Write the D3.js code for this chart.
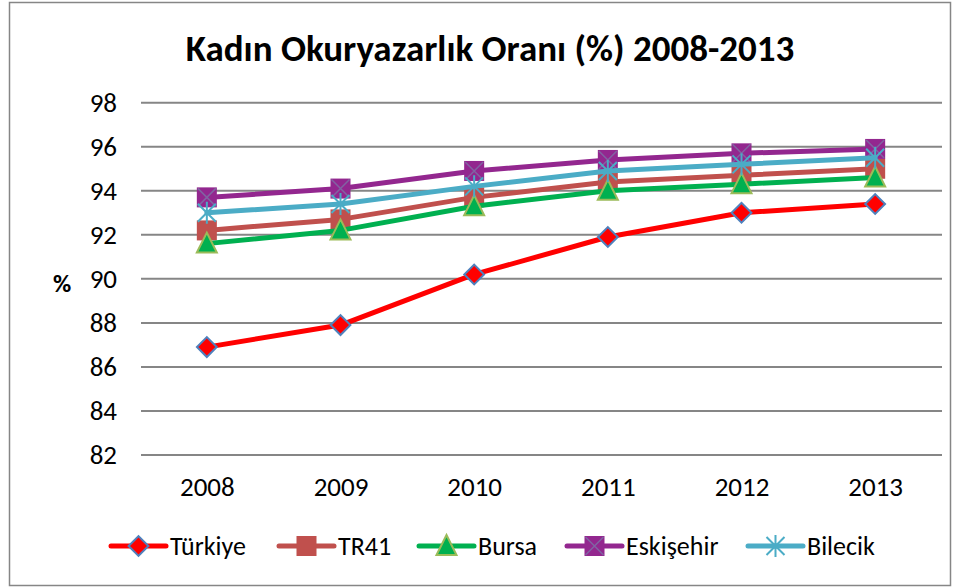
<!DOCTYPE html>
<html>
<head>
<meta charset="utf-8">
<script src="https://cdn.jsdelivr.net/npm/d3@7/dist/d3.min.js"></script>
<style>
  body { margin: 0; background: #fff; }
  text { font-family: Calibri, Carlito, Lato, sans-serif; fill: #000; }
</style>
</head>
<body>
<div class="chart"></div>
<script>
var w = 958,
    h = 587;

var years = ["2008", "2009", "2010", "2011", "2012", "2013"];
var yTicks = [82, 84, 86, 88, 90, 92, 94, 96, 98];

var turkiye   = [86.9, 87.9, 90.2, 91.9, 93.0, 93.4];
var tr41      = [92.2, 92.7, 93.7, 94.4, 94.7, 95.0];
var bursa     = [91.6, 92.2, 93.3, 94.0, 94.3, 94.6];
var eskisehir = [93.7, 94.1, 94.9, 95.4, 95.7, 95.9];
var bilecik   = [93.0, 93.4, 94.2, 94.9, 95.2, 95.5];

var seriesNames = ["Türkiye", "TR41", "Bursa", "Eskişehir", "Bilecik"];

var series = [
  { name: seriesNames[0], values: turkiye,   color: "#FF0000", marker: "diamond" },
  { name: seriesNames[1], values: tr41,      color: "#C0504D", marker: "square" },
  { name: seriesNames[2], values: bursa,     color: "#00B050", marker: "triangle" },
  { name: seriesNames[3], values: eskisehir, color: "#93278F", marker: "xsquare" },
  { name: seriesNames[4], values: bilecik,   color: "#4BACC6", marker: "star" }
];

var svg = d3.select(".chart").append("svg")
  .attr("width", w)
  .attr("height", h);

// outer frame
svg.append("rect")
  .attr("x", 9.5).attr("y", 2.5)
  .attr("width", 941).attr("height", 583)
  .attr("fill", "#fff")
  .attr("stroke", "#868686")
  .attr("stroke-width", 1.5);

var x = d3.scalePoint()
  .domain(years)
  .range([140, 942])
  .padding(0.5);

var y = d3.scaleLinear()
  .domain([82, 98])
  .range([455, 102.7]);

// title
svg.append("text")
  .attr("x", 490)
  .attr("y", 61)
  .attr("text-anchor", "middle")
  .style("font-size", "37px")
  .style("font-weight", "bold")
  .text("Kadın Okuryazarlık Oranı (%) 2008-2013");

// gridlines
svg.append("g")
  .selectAll("line")
  .data(yTicks)
  .enter()
  .append("line")
  .attr("x1", 141)
  .attr("x2", 942)
  .attr("y1", function(d) { return y(d); })
  .attr("y2", function(d) { return y(d); })
  .attr("stroke", "#868686")
  .attr("stroke-width", 2);

// y axis labels
var yAxis = d3.axisLeft(y).tickValues(yTicks).tickSize(0).tickPadding(0);
var gy = svg.append("g").attr("transform", "translate(117,0)").call(yAxis);
gy.select(".domain").remove();
gy.selectAll("text")
  .style("font-size", "27px")
  .style("font-family", "Calibri, Carlito, Lato, sans-serif")
  .attr("fill", "#000");

svg.append("text")
  .attr("x", 62)
  .attr("y", 292)
  .attr("text-anchor", "middle")
  .style("font-size", "25px")
  .style("font-weight", "bold")
  .text("%");

// x axis labels
var xAxis = d3.axisBottom(x).tickSize(0).tickPadding(0);
var gx = svg.append("g").attr("transform", "translate(0,477)").call(xAxis);
gx.select(".domain").remove();
gx.selectAll("text")
  .style("font-size", "27px")
  .style("font-family", "Calibri, Carlito, Lato, sans-serif")
  .attr("fill", "#000");

function drawMarker(g, type, color) {
  if (type === "diamond") {
    g.append("rect")
      .attr("x", -7).attr("y", -7).attr("width", 14).attr("height", 14)
      .attr("transform", "rotate(45)")
      .attr("fill", "#FF0000")
      .attr("stroke", "#4F81BD")
      .attr("stroke-width", 2);
  } else if (type === "square") {
    g.append("rect")
      .attr("x", -10).attr("y", -10).attr("width", 20).attr("height", 20)
      .attr("fill", color);
  } else if (type === "triangle") {
    g.append("path")
      .attr("d", "M0,-11L10,9L-10,9Z")
      .attr("fill", "#00B050")
      .attr("stroke", "#9BBB59")
      .attr("stroke-width", 2);
  } else if (type === "xsquare") {
    g.append("rect")
      .attr("x", -10).attr("y", -10).attr("width", 20).attr("height", 20)
      .attr("fill", color);
    g.append("path")
      .attr("d", "M-9,-9L9,9M9,-9L-9,9")
      .attr("stroke", "#8064A2")
      .attr("stroke-width", 1.5);
  } else if (type === "star") {
    g.append("path")
      .attr("d", "M-9,-9L9,9M9,-9L-9,9M0,-11L0,11")
      .attr("stroke", color)
      .attr("stroke-width", 2);
  }
}

var line = d3.line()
  .x(function(d, i) { return x(years[i]); })
  .y(function(d) { return y(d); });

series.forEach(function(s) {
  var g = svg.append("g");
  g.append("path")
    .attr("d", line(s.values))
    .attr("fill", "none")
    .attr("stroke", s.color)
    .attr("stroke-width", 5)
    .attr("stroke-linejoin", "round")
    .attr("stroke-linecap", "round");

  g.selectAll("g.m")
    .data(s.values)
    .enter()
    .append("g")
    .attr("class", "m")
    .attr("transform", function(d, i) {
      return "translate(" + x(years[i]) + "," + y(d) + ")";
    })
    .each(function() { drawMarker(d3.select(this), s.marker, s.color); });
});

// legend
var legendX = [111, 279, 419, 567, 748];
var legend = svg.append("g").attr("transform", "translate(0,546)");
series.forEach(function(s, i) {
  var lg = legend.append("g").attr("transform", "translate(" + legendX[i] + ",0)");
  lg.append("line")
    .attr("x1", 0).attr("x2", 55)
    .attr("stroke", s.color)
    .attr("stroke-width", 5)
    .attr("stroke-linecap", "round");
  var mg = lg.append("g").attr("transform", "translate(27.5,0)");
  drawMarker(mg, s.marker, s.color);
  lg.append("text")
    .attr("x", 59)
    .attr("y", 9)
    .style("font-size", "26px")
    .text(s.name);
});
</script>
</body>
</html>
